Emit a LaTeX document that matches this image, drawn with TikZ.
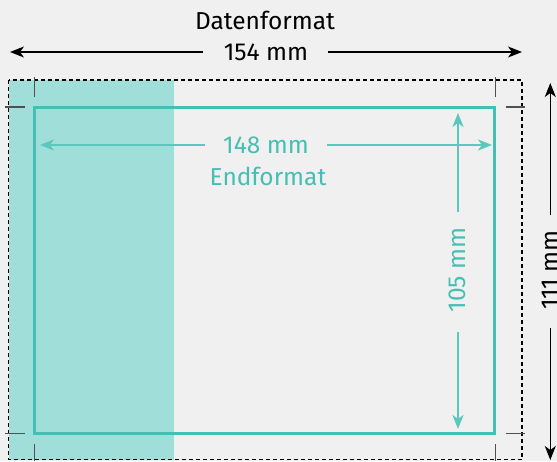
\documentclass[tikz,border=0pt]{standalone}
\usepackage{fontspec}
\setmainfont{Fira Sans}
\usetikzlibrary{arrows.meta}
\definecolor{bgc}{HTML}{F0F0F0}
\definecolor{tealfill}{HTML}{A0DEDA}
\definecolor{tealline}{HTML}{45BFB4}
\definecolor{tealarrow}{HTML}{5BC8BE}
\definecolor{cropc}{HTML}{505050}
\tikzset{
  dim/.style={line width=1.3pt, -{Stealth[length=14pt,width=11pt,inset=4pt]}},
  tdim/.style={dim, draw=tealarrow, line width=1.8pt},
  crop/.style={draw=cropc, line width=1.1pt},
  lbl/.style={font=\fontsize{24.5}{28}\selectfont, inner sep=0pt},
  tlbl/.style={lbl, text=tealline},
}
\begin{document}
\begin{tikzpicture}[x=1pt,y=-1pt]
\useasboundingbox (0,0) rectangle (557,461);
\fill[bgc] (0,0) rectangle (557,461);
% teal fill strip
\fill[tealfill] (8.5,80) rectangle (174,459.5);
% dashed data format
\draw[dash pattern=on 4pt off 3pt, line width=1.3pt] (8.5,80) rectangle (522,459.5);
% end format
\draw[tealline, line width=2.5pt] (34.7,107.7) rectangle (494.3,433.3);
% crop marks
\draw[crop] (34.7,77) -- (34.7,97);
\draw[crop] (5,107) -- (25,107);
\draw[crop] (495.7,77) -- (495.7,97);
\draw[crop] (505.7,107) -- (525,107);
\draw[crop] (505.7,433.3) -- (525,433.3);
\draw[crop] (495.7,444) -- (495.7,461);
\draw[crop] (5,433.3) -- (25,433.3);
\draw[crop] (34.7,444) -- (34.7,461);
% labels
\node[lbl] (datf) at (265,20) {Datenformat};
\node[lbl] (w154) at (266,52) {154 mm};
\node[tlbl] (w148) at (266,145) {148 mm};
\node[tlbl] (endf) at (268,176) {Endformat};
\node[tlbl, rotate=90] (h105) at (457,270) {105 mm};
\node[lbl, rotate=90] (h111) at (550,270) {111 mm};
% coordinates
\coordinate (bl1) at (203,52); \coordinate (bl0) at (10,52);
\coordinate (br1) at (328,52); \coordinate (br0) at (522,52);
\coordinate (tl1) at (205,145); \coordinate (tl0) at (40,145);
\coordinate (tr1) at (327,145); \coordinate (tr0) at (492,145);
\coordinate (vt1) at (458,212); \coordinate (vt0) at (458,113);
\coordinate (vb1) at (458,332); \coordinate (vb0) at (458,429);
\coordinate (kt1) at (550.3,215); \coordinate (kt0) at (550.3,83);
\coordinate (kb1) at (550.3,328); \coordinate (kb0) at (550.3,460);
% dimension arrows
\draw[dim] (bl1) -- (bl0);
\draw[dim] (br1) -- (br0);
\draw[tdim] (tl1) -- (tl0);
\draw[tdim] (tr1) -- (tr0);
\draw[tdim] (vt1) -- (vt0);
\draw[tdim] (vb1) -- (vb0);
\draw[dim] (kt1) -- (kt0);
\draw[dim] (kb1) -- (kb0);
\end{tikzpicture}
\end{document}
